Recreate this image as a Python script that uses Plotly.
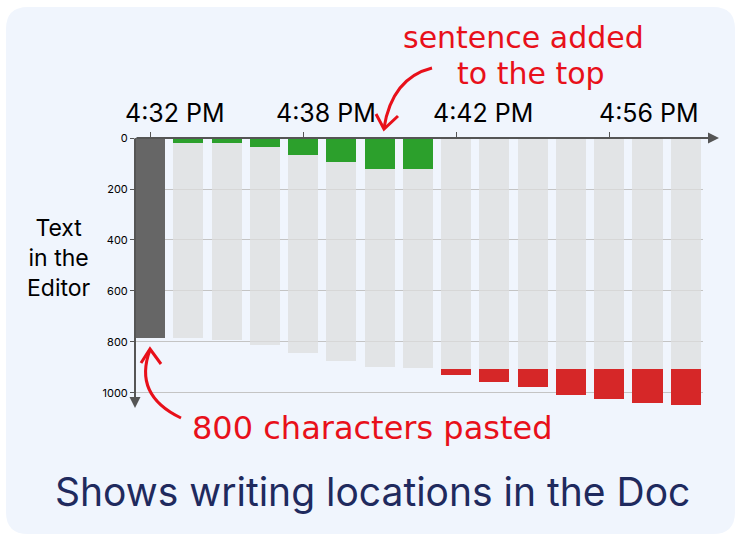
import plotly.graph_objects as go

# ---- data ----
x_labels = ["4:32 PM", "4:38 PM", "4:42 PM", "4:56 PM"]
x_label_pos = [0, 4, 8, 12]
bar_index = list(range(15))
pasted = [785] + [0] * 14                      # initial paste (dark)
added_top = [0, 21, 21, 34, 67, 93, 121, 123, 0, 0, 0, 0, 0, 0, 0]   # green
existing = [0, 762, 770, 778, 778, 780, 779, 780, 905, 905, 905, 905, 905, 905, 905]  # gray
added_bottom = [0, 0, 0, 0, 0, 0, 0, 0, 23, 50, 71, 104, 118, 133, 141]  # red
y_ticks = [0, 200, 400, 600, 800, 1000]

W, H = 740, 538
L, R, T, B = 135, 37, 138, 131
PW, PH = W - L - R, H - T - B


def px(xp):
    return (xp - L) / PW


def py(yp):
    return 1 - (yp - T) / PH


fig = go.Figure()
bw = 0.785
fig.add_bar(x=bar_index, y=pasted, marker_color="#666666", width=bw, marker_line_width=0)
fig.add_bar(x=bar_index, y=added_top, marker_color="#2ca02c", width=bw, marker_line_width=0)
fig.add_bar(x=bar_index, y=existing, marker_color="rgba(222,222,222,0.75)", width=bw, marker_line_width=0)
fig.add_bar(x=bar_index, y=added_bottom, marker_color="#d62728", width=bw, marker_line_width=0)

fig.update_layout(
    barmode="stack",
    width=W, height=H,
    margin=dict(l=L, r=R, t=T, b=B, pad=0),
    paper_bgcolor="white",
    plot_bgcolor="rgba(0,0,0,0)",
    showlegend=False,
    font=dict(family="Inter, sans-serif", color="black"),
    xaxis=dict(
        side="top", range=[-0.3925, 14.45], tickvals=x_label_pos, ticktext=[""] * len(x_labels),
        ticks="outside", ticklen=5, tickcolor="#555",
        tickwidth=1, showgrid=False, zeroline=False, showline=False,
    ),
    yaxis=dict(
        range=[1055, 0], tickvals=y_ticks, tickfont=dict(size=11, color="black"),
        ticks="outside", ticklen=4, tickcolor="#555", showgrid=True, gridcolor="#c4c4c4",
        gridwidth=1, zeroline=False, showline=False,
    ),
)

# time labels (drawn to the right of their tick, as in the original)
label_shift = [25, 23, 27, 40]
for pos, txt, sh in zip(x_label_pos, x_labels, label_shift):
    fig.add_annotation(xref="x", yref="paper", x=pos, y=py(113), xshift=sh, text=txt,
                       showarrow=False, font=dict(family="Inter", size=25, color="black"),
                       xanchor="center", yanchor="middle")

# card background
x0, y0, x1, y1, r = 6, 7, 735, 534, 22
card = (f"M {px(x0 + r)} {py(y0)} L {px(x1 - r)} {py(y0)} "
        f"Q {px(x1)} {py(y0)} {px(x1)} {py(y0 + r)} L {px(x1)} {py(y1 - r)} "
        f"Q {px(x1)} {py(y1)} {px(x1 - r)} {py(y1)} L {px(x0 + r)} {py(y1)} "
        f"Q {px(x0)} {py(y1)} {px(x0)} {py(y1 - r)} L {px(x0)} {py(y0 + r)} "
        f"Q {px(x0)} {py(y0)} {px(x0 + r)} {py(y0)} Z")
fig.add_shape(type="path", xref="paper", yref="paper", path=card,
              fillcolor="#f0f5fd", line_width=0, layer="below")

RED = "#e8101a"
# curved arrows
arrow1 = f"M {px(432)} {py(68)} Q {px(392)} {py(78)} {px(384)} {py(128)}"
head1 = f"M {px(376)} {py(114)} L {px(384)} {py(129)} L {px(398)} {py(116)}"
arrow2 = f"M {px(181)} {py(418)} Q {px(133)} {py(395)} {px(150)} {py(350)}"
head2 = f"M {px(141)} {py(363)} L {px(150)} {py(349)} L {px(161)} {py(364)}"
for p in (arrow1, head1, arrow2, head2):
    fig.add_shape(type="path", xref="paper", yref="paper", path=p,
                  line=dict(color=RED, width=3), layer="above")

# axis arrows
fig.add_annotation(xref="paper", yref="paper", x=px(719), y=py(138), ax=-584, ay=0,
                   axref="pixel", ayref="pixel", text="", showarrow=True, arrowhead=2,
                   arrowsize=1.1, arrowwidth=2, arrowcolor="#555555", standoff=0, startstandoff=0)
fig.add_annotation(xref="paper", yref="paper", x=px(135), y=py(408), ax=0, ay=-271,
                   axref="pixel", ayref="pixel", text="", showarrow=True, arrowhead=2,
                   arrowsize=1.1, arrowwidth=2, arrowcolor="#555555", standoff=0, startstandoff=0)

hand = "DejaVu Sans, sans-serif"
fig.add_annotation(xref="paper", yref="paper", x=px(523), y=py(37), text="sentence added",
                   showarrow=False, font=dict(family=hand, size=30, color=RED), xanchor="center", yanchor="middle")
fig.add_annotation(xref="paper", yref="paper", x=px(531), y=py(73), text="to the top",
                   showarrow=False, font=dict(family=hand, size=30, color=RED), xanchor="center", yanchor="middle")
fig.add_annotation(xref="paper", yref="paper", x=px(372), y=py(428), text="800 characters pasted",
                   showarrow=False, font=dict(family=hand, size=32, color=RED), xanchor="center", yanchor="middle")
fig.add_annotation(xref="paper", yref="paper", x=px(59), y=py(258), text="Text<br>in the<br>Editor",
                   showarrow=False, font=dict(family="Inter", size=23, color="black"), xanchor="center", yanchor="middle")
fig.add_annotation(xref="paper", yref="paper", x=px(372), y=py(491), text="Shows writing locations in the Doc",
                   showarrow=False, font=dict(family="Inter", size=39, color="#1f2a5e"), xanchor="center", yanchor="middle")

fig.write_html("out.html", config={"displayModeBar": False},
               post_script="document.body.style.margin='0';")
